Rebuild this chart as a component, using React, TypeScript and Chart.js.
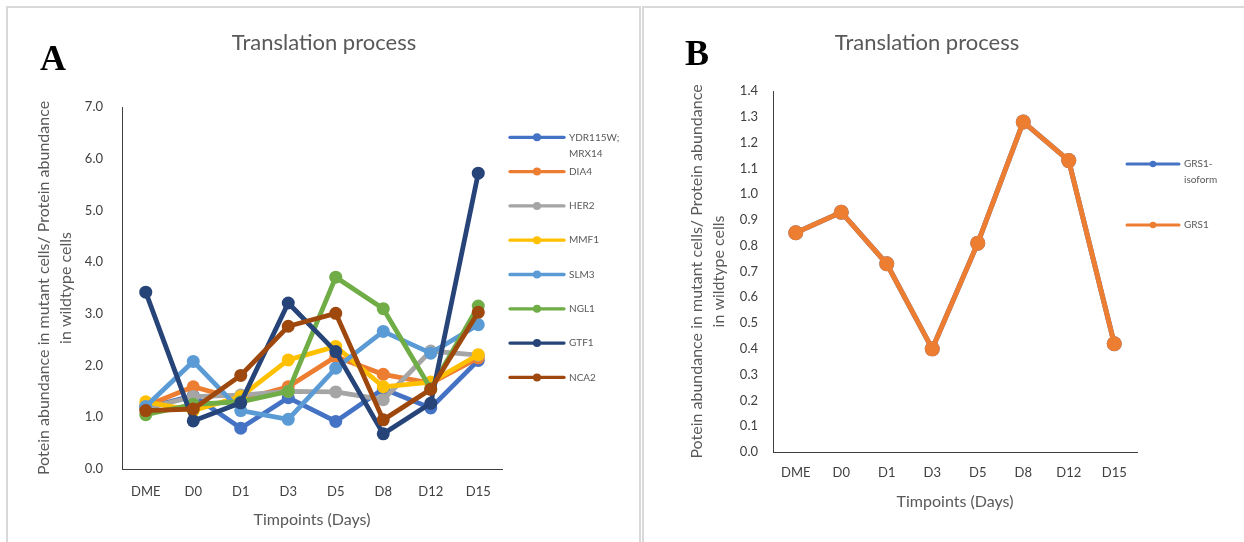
import { useEffect, useRef } from "react";
import { Chart, registerables } from "chart.js";

Chart.register(...registerables);

// Time points on the x axis (both panels)
const timepoints = ["DME", "D0", "D1", "D3", "D5", "D8", "D12", "D15"];

// Panel A: protein abundance ratios (mutant / wildtype)
const ydr115wMrx14 = [1.18, 1.42, 0.79, 1.38, 0.92, 1.55, 1.18, 2.1];
const dia4 = [1.22, 1.59, 1.34, 1.59, 2.17, 1.83, 1.66, 2.15];
const her2 = [1.17, 1.4, 1.43, 1.5, 1.49, 1.34, 2.28, 2.2];
const mmf1 = [1.3, 1.13, 1.4, 2.11, 2.37, 1.59, 1.68, 2.21];
const slm3 = [1.21, 2.08, 1.13, 0.96, 1.95, 2.66, 2.24, 2.79];
const ngl1 = [1.05, 1.25, 1.3, 1.5, 3.71, 3.1, 1.55, 3.15];
const gtf1 = [3.42, 0.93, 1.28, 3.21, 2.27, 0.68, 1.27, 5.72];
const nca2 = [1.13, 1.16, 1.81, 2.76, 3.01, 0.95, 1.54, 3.03];

const seriesA = [
  { name: "YDR115W; MRX14", values: ydr115wMrx14, color: "#4472C4" },
  { name: "DIA4", values: dia4, color: "#ED7D31" },
  { name: "HER2", values: her2, color: "#A5A5A5" },
  { name: "MMF1", values: mmf1, color: "#FFC000" },
  { name: "SLM3", values: slm3, color: "#5B9BD5" },
  { name: "NGL1", values: ngl1, color: "#70AD47" },
  { name: "GTF1", values: gtf1, color: "#264478" },
  { name: "NCA2", values: nca2, color: "#9E480E" },
];

// Panel B: GRS1 and its isoform
const grs1Isoform = [0.85, 0.93, 0.73, 0.4, 0.81, 1.28, 1.13, 0.42];
const grs1 = [0.85, 0.93, 0.73, 0.4, 0.81, 1.28, 1.13, 0.42];

const seriesB = [
  { name: "GRS1-isoform", values: grs1Isoform, color: "#4472C4" },
  { name: "GRS1", values: grs1, color: "#ED7D31" },
];

const yTitle = ["Potein abundance in mutant cells/ Protein abundance", "in wildtype cells"];
const xTitle = "Timpoints (Days)";
const chartTitle = "Translation process";

const FONT = "Lato, 'Open Sans', sans-serif";
const TITLE_GREY = "#595959";
const TICK_GREY = "#404040";
const AXIS_LINE = "#3f3f3f";

function wrapLabel(ctx: CanvasRenderingContext2D, text: string, maxWidth: number): string[] {
  const tokens = text.match(/[^\s-]+-?/g) || [text];
  const lines: string[] = [];
  let cur = "";
  for (const tok of tokens) {
    const cand = cur ? (cur.endsWith("-") ? cur + tok : cur + " " + tok) : tok;
    if (cur && ctx.measureText(cand).width > maxWidth) {
      lines.push(cur);
      cur = tok;
    } else {
      cur = cand;
    }
  }
  if (cur) lines.push(cur);
  return lines;
}

// Legend drawn beside the plot: a short line with a marker, then the series name
const sideLegend = {
  id: "sideLegend",
  afterDraw(chart: any, _args: any, opts: any) {
    const ctx: CanvasRenderingContext2D = chart.ctx;
    ctx.save();
    ctx.font = `${opts.fontSize}px ${FONT}`;
    ctx.textBaseline = "middle";
    ctx.textAlign = "left";
    chart.data.datasets.forEach((ds: any, i: number) => {
      const y = opts.top + i * opts.spacing;
      ctx.strokeStyle = ds.borderColor;
      ctx.lineWidth = opts.lineWidth;
      ctx.lineCap = "round";
      ctx.beginPath();
      ctx.moveTo(opts.x, y);
      ctx.lineTo(opts.x + opts.lineLength, y);
      ctx.stroke();
      ctx.fillStyle = ds.borderColor;
      ctx.beginPath();
      ctx.arc(opts.x + opts.lineLength / 2, y, opts.dotRadius, 0, Math.PI * 2);
      ctx.fill();
      ctx.fillStyle = TITLE_GREY;
      const lines = wrapLabel(ctx, ds.label, opts.maxWidth);
      lines.forEach((ln, j) => {
        ctx.fillText(ln, opts.x + opts.lineLength + opts.gap, y + j * opts.lineHeight);
      });
    });
    ctx.restore();
  },
};

// Chart heading placed at a given centre point
const panelTitle = {
  id: "panelTitle",
  afterDraw(chart: any, _args: any, opts: any) {
    const ctx: CanvasRenderingContext2D = chart.ctx;
    ctx.save();
    ctx.font = `${opts.fontSize}px ${FONT}`;
    ctx.fillStyle = TITLE_GREY;
    ctx.textAlign = "center";
    ctx.textBaseline = "middle";
    ctx.fillText(opts.text, opts.x, opts.y);
    ctx.restore();
  },
};

type Layout = {
  width: number;
  height: number;
  areaLeft: number;
  areaTop: number;
  areaRight: number;
  areaBottom: number;
  yMax: number;
  yStep: number;
  yTitlePad: number;
  yTickPad: number;
  xTickPad: number;
  xTitlePad: number;
  lineWidth: number;
  pointRadius: number;
  title: { x: number; y: number };
  legend: any;
};

function buildConfig(series: { name: string; values: number[]; color: string }[], L: Layout): any {
  const n = series.length;
  return {
    type: "line",
    data: {
      labels: timepoints,
      datasets: series.map((s, i) => ({
        label: s.name,
        data: s.values,
        borderColor: s.color,
        backgroundColor: s.color,
        pointBackgroundColor: s.color,
        pointBorderColor: s.color,
        pointBorderWidth: 0,
        borderWidth: L.lineWidth,
        pointRadius: L.pointRadius,
        tension: 0,
        fill: false,
        order: n - i,
      })),
    },
    options: {
      responsive: false,
      animation: false,
      devicePixelRatio: 1,
      layout: {
        padding: { left: 0, top: L.areaTop, right: L.width - L.areaRight, bottom: 0 },
      },
      plugins: {
        legend: { display: false },
        title: { display: false },
        tooltip: { enabled: false },
        panelTitle: { text: chartTitle, x: L.title.x, y: L.title.y, fontSize: 22 },
        sideLegend: L.legend,
      },
      scales: {
        x: {
          type: "category",
          offset: true,
          grid: { display: false, drawTicks: false },
          border: { display: true, color: AXIS_LINE, width: 1 },
          ticks: { color: TICK_GREY, font: { family: FONT, size: 13 }, padding: L.xTickPad, maxRotation: 0 },
          title: {
            display: true,
            text: xTitle,
            color: TITLE_GREY,
            font: { family: FONT, size: 16, lineHeight: "18px" },
            padding: { top: 0, bottom: L.xTitlePad },
          },
          afterFit: (scale: any) => {
            scale.height = L.height - L.areaBottom;
          },
        },
        y: {
          min: 0,
          max: L.yMax,
          grid: { display: false, drawTicks: false },
          border: { display: true, color: AXIS_LINE, width: 1 },
          ticks: {
            stepSize: L.yStep,
            color: TICK_GREY,
            font: { family: FONT, size: 13 },
            padding: L.yTickPad,
            callback: (v: any) => Number(v).toFixed(1),
          },
          title: {
            display: true,
            text: yTitle,
            color: TITLE_GREY,
            font: { family: FONT, size: 16, lineHeight: "22px" },
            padding: { top: L.yTitlePad, bottom: 0 },
          },
          afterFit: (scale: any) => {
            scale.width = L.areaLeft;
          },
        },
      },
    },
    plugins: [panelTitle, sideLegend],
  };
}

const layoutA: Layout = {
  width: 634,
  height: 535,
  areaLeft: 115,
  areaTop: 100,
  areaRight: 495,
  areaBottom: 462,
  yMax: 7,
  yStep: 1,
  yTitlePad: 26,
  yTickPad: 19,
  xTickPad: 15,
  xTitlePad: 13,
  lineWidth: 4.8,
  pointRadius: 6.5,
  title: { x: 317, y: 36 },
  legend: {
    x: 503,
    top: 130.3,
    spacing: 34.3,
    lineLength: 54,
    lineWidth: 3.3,
    dotRadius: 4,
    gap: 5,
    fontSize: 10,
    lineHeight: 16,
    maxWidth: 60,
  },
};

const layoutB: Layout = {
  width: 601,
  height: 535,
  areaLeft: 130,
  areaTop: 84,
  areaRight: 494,
  areaBottom: 445,
  yMax: 1.4,
  yStep: 0.1,
  yTitlePad: 43,
  yTickPad: 15,
  xTickPad: 13,
  xTitlePad: 31,
  lineWidth: 5,
  pointRadius: 7.5,
  title: { x: 284, y: 36 },
  legend: {
    x: 484,
    top: 157,
    spacing: 61,
    lineLength: 52,
    lineWidth: 3,
    dotRadius: 3.2,
    gap: 5,
    fontSize: 10,
    lineHeight: 15.3,
    maxWidth: 45,
  },
};

function LineChartCanvas({ series, layout, left, top }: { series: any[]; layout: Layout; left: number; top: number }) {
  const ref = useRef<HTMLCanvasElement>(null);
  useEffect(() => {
    if (!ref.current) return;
    const chart = new Chart(ref.current, buildConfig(series, layout));
    return () => chart.destroy();
  }, [series, layout]);
  return (
    <canvas
      ref={ref}
      width={layout.width}
      height={layout.height}
      style={{ position: "absolute", left, top, width: layout.width, height: layout.height }}
    />
  );
}

const letterStyle: any = {
  position: "absolute",
  fontFamily: "'Liberation Serif', 'Times New Roman', serif",
  fontWeight: "bold",
  fontSize: 36,
  lineHeight: "36px",
  color: "#000",
};

export default function App() {
  return (
    <div
      style={{
        position: "fixed",
        left: 0,
        top: 0,
        width: 1244,
        height: 542,
        background: "#fff",
        overflow: "hidden",
      }}
    >
      <div
        style={{
          position: "absolute",
          left: 6,
          top: 6,
          width: 635,
          height: 600,
          border: "2px solid #d9d9d9",
          boxSizing: "border-box",
        }}
      />
      <div
        style={{
          position: "absolute",
          left: 642,
          top: 6,
          width: 700,
          height: 600,
          border: "2px solid #d9d9d9",
          boxSizing: "border-box",
        }}
      />
      <LineChartCanvas series={seriesA} layout={layoutA} left={7} top={7} />
      <LineChartCanvas series={seriesB} layout={layoutB} left={643} top={7} />
      <div style={{ ...letterStyle, left: 40, top: 40 }}>A</div>
      <div style={{ ...letterStyle, left: 685, top: 35 }}>B</div>
    </div>
  );
}
